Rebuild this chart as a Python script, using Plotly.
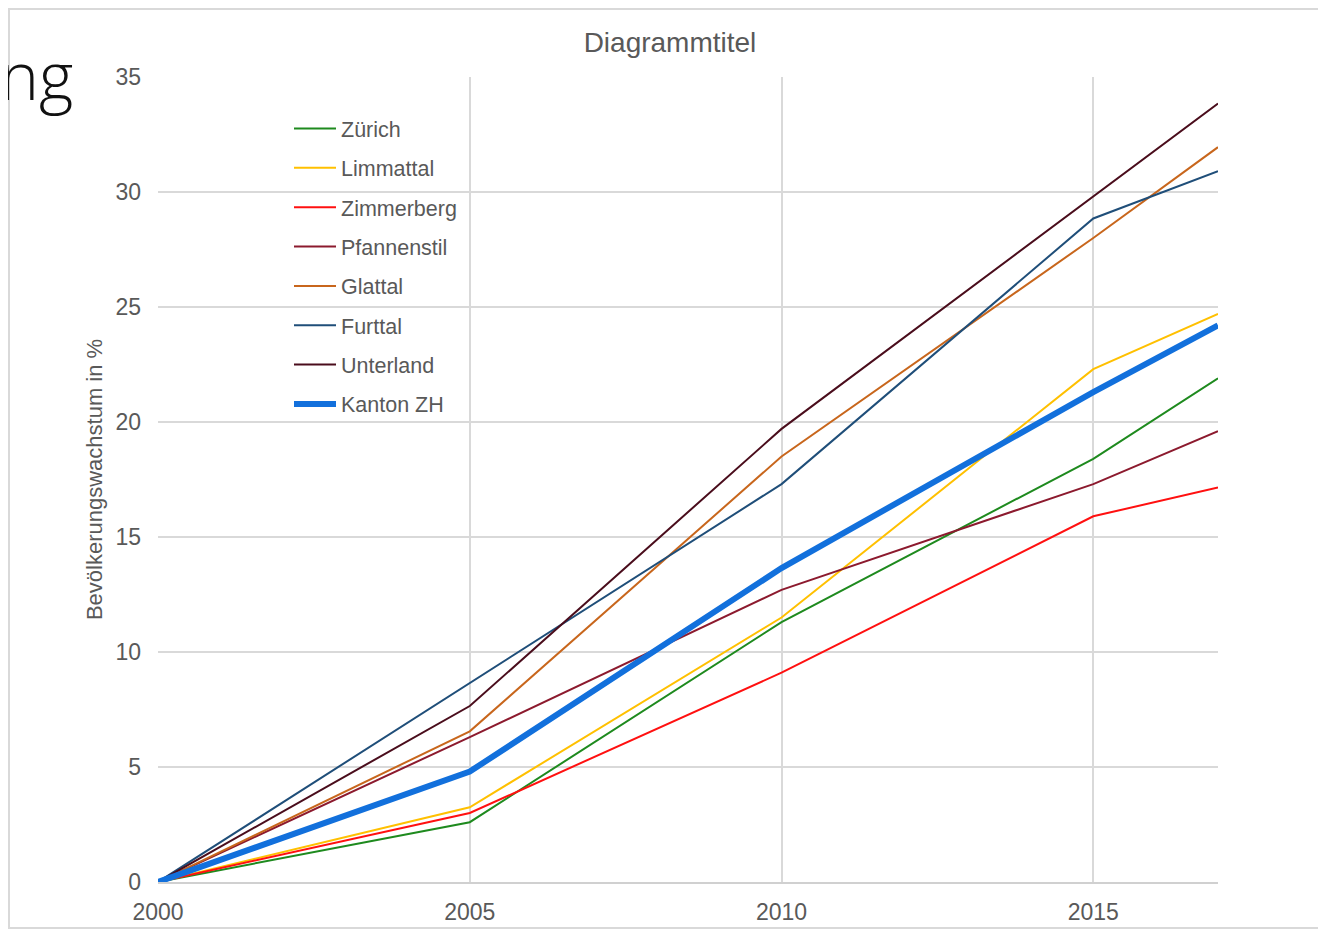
import plotly.graph_objects as go

years = [2000, 2005, 2010, 2015, 2017]
series_names = ["Zürich", "Limmattal", "Zimmerberg", "Pfannenstil", "Glattal", "Furttal", "Unterland", "Kanton ZH"]
zuerich = [0, 2.6, 11.3, 18.4, 21.9]
limmattal = [0, 3.25, 11.5, 22.3, 24.7]
zimmerberg = [0, 3.0, 9.1, 15.9, 17.15]
pfannenstil = [0, 6.3, 12.7, 17.3, 19.6]
glattal = [0, 6.55, 18.5, 28.0, 31.95]
furttal = [0, 8.65, 17.3, 28.85, 30.9]
unterland = [0, 7.65, 19.7, 29.8, 33.85]
kanton_zh = [0, 4.8, 13.65, 21.3, 24.2]
values = [zuerich, limmattal, zimmerberg, pfannenstil, glattal, furttal, unterland, kanton_zh]
colors = ["#1e8a1e", "#ffc000", "#ff1010", "#8c1a2e", "#c8661c", "#1f4e79", "#4a0d1c", "#1270dc"]
widths = [2, 2, 2, 2, 2, 2, 2, 6]
x_ticks = [2000, 2005, 2010, 2015]

# page body has an 8px margin, so the figure is drawn from (8, 8)
W, H = 1318, 922
L, R, T, B = 150, 108, 69, 48
pw, ph = W - L - R, H - T - B

fig = go.Figure()
for i, (name, vals) in enumerate(zip(series_names, values)):
    fig.add_trace(go.Scatter(
        x=years, y=vals, mode="lines", name=name,
        line=dict(color=colors[i], width=widths[i]),
        legendgroup=f"g{i}",
    ))

font = "Liberation Sans, Arial, sans-serif"
fig.update_layout(
    width=W, height=H,
    margin=dict(l=L, r=R, t=T, b=B, autoexpand=False),
    paper_bgcolor="white", plot_bgcolor="white",
    font=dict(family=font, color="#595959", size=22),
    title=dict(text="Diagrammtitel", x=662 / W, xanchor="center", y=1 - 34 / H, yanchor="middle",
               font=dict(size=28, color="#595959")),
    showlegend=True,
    legend=dict(x=(281 - L) / pw, xanchor="left", y=1 - (100 - T) / ph, yanchor="top",
                bgcolor="rgba(255,255,255,0)", font=dict(size=21.5, color="#595959"),
                traceorder="grouped", tracegroupgap=8.4, itemwidth=42),
    xaxis=dict(range=[2000, 2017], tickvals=x_ticks, showgrid=True, gridcolor="#d9d9d9", gridwidth=1.5,
               showline=True, linecolor="#d0d0d0", linewidth=2, zeroline=False, ticks="",
               tickfont=dict(size=23, color="#595959"), ticklabelstandoff=8, automargin=False),
    yaxis=dict(range=[0, 35], dtick=5, showgrid=True, gridcolor="#d9d9d9", gridwidth=1.5,
               zeroline=False, showline=False, ticks="", automargin=False,
               tickfont=dict(size=23, color="#595959"), ticklabelstandoff=16,
               title=dict(text="Bevölkerungswachstum in %", font=dict(size=22, color="#595959"), standoff=6)),
    shapes=[dict(type="rect", xref="paper", yref="paper",
                 x0=(1 - L) / pw, x1=(W + 20 - L) / pw,
                 y0=-(920 - (H - B)) / ph, y1=1 + (T - 1) / ph,
                 line=dict(color="#d9d9d9", width=2), layer="below")],
    annotations=[dict(text="ng", xref="paper", yref="paper", x=(67 - L) / pw, xanchor="right",
                      y=1 + (T - 66) / ph, yanchor="middle", showarrow=False,
                      font=dict(size=66, color="#111111", family="Open Sans, Liberation Sans, sans-serif", weight=300))],
)

fig.write_html("out.html")
